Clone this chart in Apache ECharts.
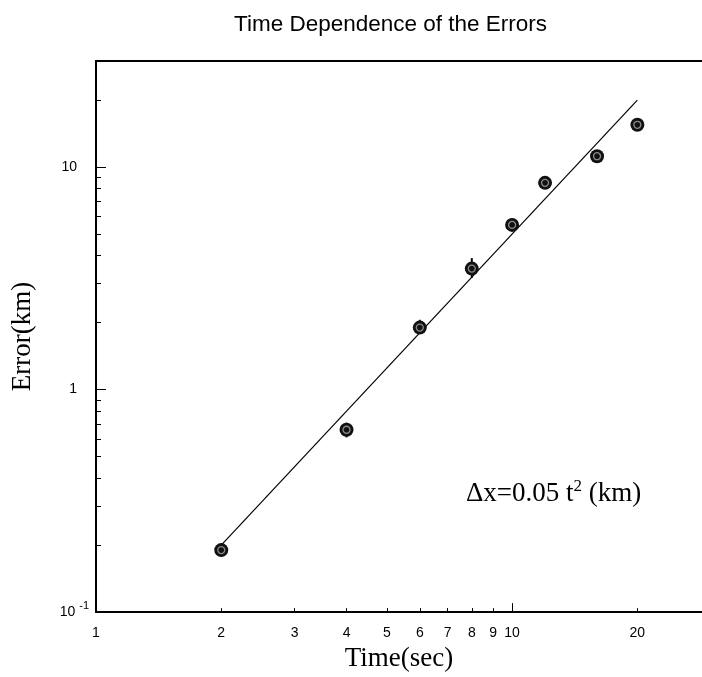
<!DOCTYPE html>
<html>
<head>
<meta charset="utf-8">
<script src="https://cdn.jsdelivr.net/npm/echarts@6/dist/echarts.min.js"></script>
<style>
html,body{margin:0;padding:0;background:#fff;}
#chart{width:702px;height:677px;}
</style>
</head>
<body>
<div id="chart"></div>
<script>
// Data
var times = [2, 4, 6, 8, 10, 12, 16, 20];
var errors = [0.19, 0.66, 1.9, 3.5, 5.5, 8.5, 11.2, 15.5];
var errLow = [0.178, 0.61, 1.78, 3.18, 5.15, 8.0, 10.5, 14.6];
var errHigh = [0.203, 0.71, 2.06, 3.9, 5.9, 9.0, 11.9, 16.4];
var fitT = [2, 20];
var fitErr = [0.2, 20];
var xLabelValues = [1, 2, 3, 4, 5, 6, 7, 8, 9, 10, 20];
var xMinorTicks = [2, 3, 4, 5, 6, 7, 8, 9, 20];
var xMajorTicks = [10];
var yLabelValues = [0.1, 1, 10];
var yMajorTicks = [0.1, 1, 10];
var yMinorTicks = [0.2, 0.3, 0.4, 0.5, 0.6, 0.7, 0.8, 0.9, 2, 3, 4, 5, 6, 7, 8, 9, 20];
var xMin = 1, xMax = 28.6, yMin = 0.1, yMax = 30;

var chart = echarts.init(document.getElementById('chart'));
var sans = 'Liberation Sans';
var serif = 'Liberation Serif';

var pts = times.map(function (t, i) { return [t, errors[i]]; });
var bars = times.map(function (t, i) { return [t, errLow[i], errHigh[i]]; });
var fit = fitT.map(function (t, i) { return [t, fitErr[i]]; });

function yFmt(v) {
  var p = Math.round(Math.log10(v));
  if (p < 0) return '{b|10}{s|' + p + '}';
  return '{b|' + Math.round(v) + '}{sp|}';
}

var baseAxisX = {
  type: 'log', logBase: 10, min: xMin, max: xMax,
  splitLine: { show: false }
};
var baseAxisY = {
  type: 'log', logBase: 10, min: yMin, max: yMax,
  splitLine: { show: false }
};

chart.setOption({
  animation: false,
  backgroundColor: '#fff',
  title: {
    text: 'Time Dependence of the Errors',
    left: 229, top: 8,
    textStyle: { fontFamily: sans, fontSize: 22.5, fontWeight: 'normal', color: '#000' }
  },
  grid: {
    left: 96, top: 61, right: 0, bottom: 63,
    show: false
  },
  xAxis: [
    Object.assign({}, baseAxisX, {
      position: 'bottom',
      name: 'Time(sec)', nameLocation: 'middle', nameGap: 32,
      nameTextStyle: { fontFamily: serif, fontSize: 27, color: '#000' },
      axisLine: { show: true, lineStyle: { color: '#000', width: 2 } },
      axisTick: { show: true, inside: true, length: 4, customValues: xMinorTicks, lineStyle: { color: '#000', width: 1 } },
      axisLabel: {
        show: true, customValues: xLabelValues, margin: 14,
        fontFamily: sans, fontSize: 14, color: '#000',
        formatter: function (v) { return String(Math.round(v)); }
      }
    }),
    Object.assign({}, baseAxisX, {
      position: 'bottom',
      axisLine: { show: false },
      axisTick: { show: true, inside: true, length: 9, customValues: xMajorTicks, lineStyle: { color: '#000', width: 1 } },
      axisLabel: { show: false }
    }),
    Object.assign({}, baseAxisX, {
      position: 'top',
      axisLine: { show: true, lineStyle: { color: '#000', width: 2 } },
      axisTick: { show: false },
      axisLabel: { show: false }
    })
  ],
  yAxis: [
    Object.assign({}, baseAxisY, {
      position: 'left',
      name: 'Error(km)', nameLocation: 'middle', nameGap: 60,
      nameTextStyle: { fontFamily: serif, fontSize: 27, color: '#000' },
      axisLine: { show: true, lineStyle: { color: '#000', width: 2 } },
      axisTick: { show: true, inside: true, length: 10, customValues: yMajorTicks, lineStyle: { color: '#000', width: 1 } },
      axisLabel: {
        show: true, customValues: yLabelValues, margin: 7,
        formatter: yFmt,
        rich: {
          b: { fontFamily: sans, fontSize: 14, color: '#000', lineHeight: 24 },
          s: { fontFamily: sans, fontSize: 11, color: '#000', verticalAlign: 'top', lineHeight: 11, padding: [0, 0, 0, 4] },
          sp: { width: 12 }
        }
      }
    }),
    Object.assign({}, baseAxisY, {
      position: 'left',
      axisLine: { show: false },
      axisTick: { show: true, inside: true, length: 5, customValues: yMinorTicks, lineStyle: { color: '#000', width: 1 } },
      axisLabel: { show: false }
    })
  ],
  graphic: [{
    type: 'text', left: 466, top: 478, z: 10,
    style: {
      text: '{m|Δx=0.05 t}{s|2}{m| (km)}',
      rich: {
        m: { fontFamily: serif, fontSize: 27, fill: '#000', lineHeight: 32 },
        s: { fontFamily: serif, fontSize: 17, fill: '#000', verticalAlign: 'top', lineHeight: 17 }
      }
    }
  }],
  series: [
    {
      type: 'line', data: fit, xAxisIndex: 0, yAxisIndex: 0,
      symbol: 'none', lineStyle: { color: '#000', width: 1.2 }, z: 2
    },
    {
      type: 'custom', data: bars, xAxisIndex: 0, yAxisIndex: 0,
      encode: { x: 0, y: [1, 2] }, z: 3,
      renderItem: function (params, api) {
        var a = api.coord([api.value(0), api.value(1)]);
        var b = api.coord([api.value(0), api.value(2)]);
        return { type: 'line', shape: { x1: a[0], y1: a[1], x2: b[0], y2: b[1] }, style: { stroke: '#000', lineWidth: 2 } };
      }
    },
    {
      type: 'scatter', data: pts, xAxisIndex: 0, yAxisIndex: 0,
      symbol: 'circle', symbolSize: 14, itemStyle: { color: '#111', opacity: 1 }, z: 4
    },
    {
      type: 'scatter', data: pts, xAxisIndex: 0, yAxisIndex: 0,
      symbol: 'circle', symbolSize: 7, itemStyle: { color: 'transparent', borderColor: '#8a8a8a', borderWidth: 1.3, opacity: 1 }, z: 5
    }
  ]
});
</script>
</body>
</html>
